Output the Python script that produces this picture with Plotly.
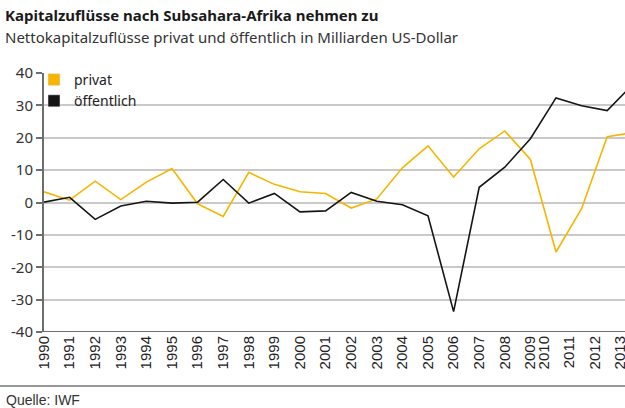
import plotly.graph_objects as go

years = list(range(1990, 2014))
privat = [3.3, 0.7, 6.6, 0.9, 6.3, 10.5, -0.4, -4.3, 9.3, 5.6, 3.3, 2.8, -1.7, 1.1,
          10.7, 17.5, 7.9, 16.6, 22.1, 13.3, -15.3, -1.9, 20.3, 21.6]
oeffentlich = [0.1, 1.6, -5.2, -1.1, 0.4, -0.2, 0.1, 7.1, -0.2, 2.8, -2.9, -2.6, 3.1, 0.4,
               -0.7, -4.1, -33.7, 4.7, 10.9, 19.7, 32.3, 29.9, 28.4, 36.5]
tick_labels = [str(y) for y in years]
y_ticks = [-40, -30, -20, -10, 0, 10, 20, 30, 40]
y_tick_labels = [str(v) for v in y_ticks]

ORANGE = "#F7B500"
BLACK = "#151515"

# label positions as in the original (last four labels drawn slightly left)
tick_pos = [y if y < 2010 else y - 0.48 for y in years]

fig = go.Figure()
fig.add_trace(go.Scatter(x=years, y=privat, mode="lines", line=dict(color=ORANGE, width=1.6),
                         showlegend=False))
fig.add_trace(go.Scatter(x=years, y=oeffentlich, mode="lines", line=dict(color=BLACK, width=1.6),
                         showlegend=False))
# legend swatches
fig.add_trace(go.Bar(x=[None], y=[None], name="privat", marker_color=ORANGE))
fig.add_trace(go.Bar(x=[None], y=[None], name="öffentlich", marker_color=BLACK))

W, H = 625, 408
ml, mr, mt, mb = 44, 0, 73, 76
pw, ph = W - ml - mr, H - mt - mb

def px(xp):
    return (xp - ml) / pw

def py(yp):
    return (H - mb - yp) / ph

fig.update_layout(
    width=W, height=H,
    margin=dict(l=ml, r=mr, t=mt, b=mb, autoexpand=False),
    plot_bgcolor="white", paper_bgcolor="white",
    font=dict(family="Noto Sans", size=15, color="#333333"),
    showlegend=True,
    legend=dict(x=px(34), y=py(64), xanchor="left", yanchor="top", bgcolor="rgba(0,0,0,0)",
                font=dict(size=14, color="#222222"), tracegroupgap=0, itemwidth=30),
    xaxis=dict(range=[1990, 1990 + pw / 25.6], tickmode="array", tickvals=tick_pos,
               ticktext=tick_labels, tickangle=-90, showgrid=False, zeroline=False,
               showline=False, ticks="", automargin=False, ticklabeloverflow="allow",
               tickfont=dict(family="Liberation Sans", size=15, color="#222222")),
    yaxis=dict(range=[-40, 40], tickmode="array", tickvals=y_ticks, ticktext=y_tick_labels,
               showgrid=True, gridcolor="#c9c9c9", gridwidth=1.5, zeroline=False,
               showline=True, linecolor="#6e6e6e", linewidth=2, automargin=False,
               ticks="outside", ticklen=6, tickcolor="#6e6e6e", tickwidth=1.5,
               tickfont=dict(family="Noto Sans", size=15, color="#333333")),
    annotations=[
        dict(text="<b>Kapitalzuflüsse nach Subsahara-Afrika nehmen zu</b>", xref="paper", yref="paper",
             x=px(3), y=py(15), xanchor="left", yanchor="middle", showarrow=False,
             font=dict(family="Noto Sans", size=15, color="#1a1a1a")),
        dict(text="Nettokapitalzuflüsse privat und öffentlich in Milliarden US-Dollar", xref="paper", yref="paper",
             x=px(3), y=py(37), xanchor="left", yanchor="middle", showarrow=False,
             font=dict(family="Noto Sans", size=15, color="#333333")),
        dict(text="Quelle: IWF", xref="paper", yref="paper",
             x=px(4), y=py(400), xanchor="left", yanchor="middle", showarrow=False,
             font=dict(family="Liberation Sans", size=14, color="#333333")),
    ],
    shapes=[
        dict(type="line", xref="paper", yref="paper", x0=px(0), x1=1, y0=py(386), y1=py(386),
             line=dict(color="#333333", width=1.2)),
        dict(type="line", xref="paper", yref="y", x0=0, x1=1, y0=-40, y1=-40,
             line=dict(color="#6e6e6e", width=2)),
    ],
)

fig.write_html("out.html", config={"displayModeBar": False},
               post_script="document.body.style.margin='0';")
